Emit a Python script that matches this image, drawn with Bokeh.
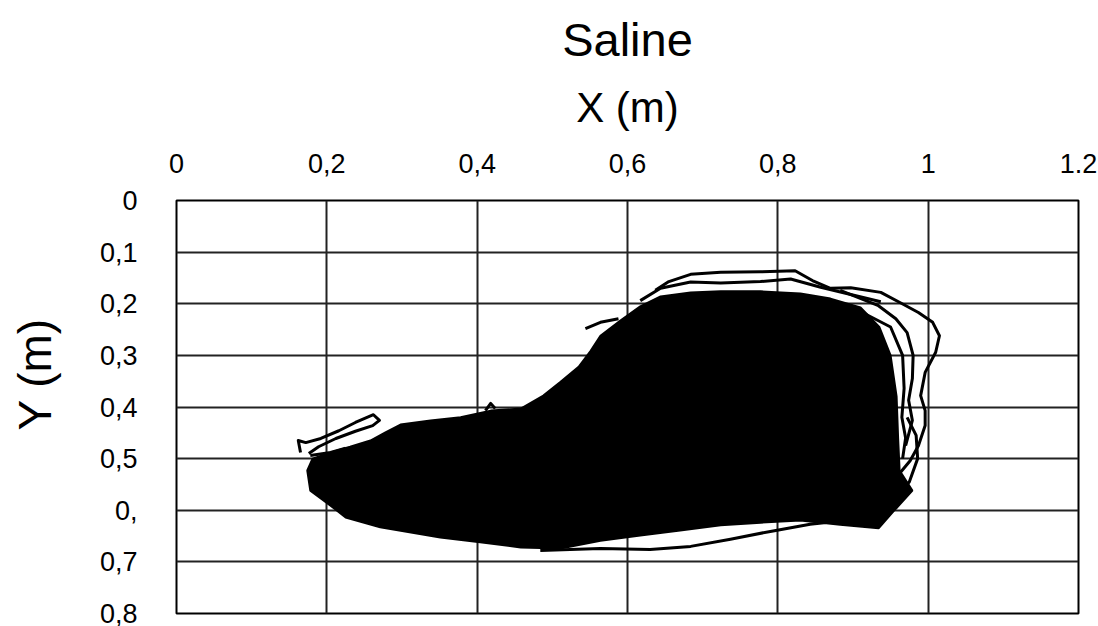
from bokeh.plotting import figure
from bokeh.models import Range1d, FixedTicker, Title, LinearAxis
from bokeh.embed import file_html
from bokeh.resources import INLINE

# ---- axes / ticks ----
x_ticks = [0, 0.2, 0.4, 0.6, 0.8, 1.0, 1.2]
x_tick_labels = ["0", "0,2", "0,4", "0,6", "0,8", "1", "1.2"]
y_ticks = [0, 0.1, 0.2, 0.3, 0.4, 0.5, 0.6, 0.7, 0.8]
y_tick_labels = ["0", "0,1", "0,2", "0,3", "0,4", "0,5", "0,", "0,7", "0,8"]

# ---- trajectory (metres) ----
# dense core of the track (outline of the saturated region)
core_x = [0.174, 0.181, 0.205, 0.231, 0.258, 0.278, 0.298, 0.338, 0.378, 0.418,
          0.458, 0.488, 0.511, 0.535, 0.551, 0.564, 0.591, 0.617, 0.644, 0.684,
          0.724, 0.777, 0.830, 0.870, 0.910, 0.935, 0.950, 0.958, 0.960, 0.962,
          0.979, 0.957, 0.934, 0.883, 0.830, 0.777, 0.724, 0.670, 0.617, 0.564,
          0.511, 0.458, 0.404, 0.351, 0.271, 0.225, 0.205, 0.178]
core_y = [0.523, 0.500, 0.488, 0.477, 0.465, 0.449, 0.434, 0.426, 0.420, 0.407,
          0.403, 0.378, 0.351, 0.322, 0.291, 0.262, 0.232, 0.205, 0.186, 0.178,
          0.176, 0.176, 0.180, 0.190, 0.207, 0.245, 0.300, 0.380, 0.460, 0.523,
          0.562, 0.597, 0.635, 0.628, 0.620, 0.624, 0.629, 0.639, 0.649, 0.659,
          0.674, 0.672, 0.662, 0.653, 0.633, 0.614, 0.591, 0.562]

# outermost loop (top and right edge)
loop_a_x = [0.637, 0.655, 0.684, 0.724, 0.777, 0.823, 0.846, 0.870, 0.897, 0.937,
            0.963, 0.987, 1.006, 1.015, 1.010, 0.996, 0.990, 0.996, 0.996, 0.987,
            0.976, 0.963]
loop_a_y = [0.174, 0.157, 0.143, 0.139, 0.138, 0.136, 0.155, 0.170, 0.169, 0.178,
            0.198, 0.217, 0.236, 0.262, 0.294, 0.333, 0.378, 0.407, 0.436, 0.475,
            0.504, 0.527]
# second loop on the right
loop_b_x = [0.883, 0.933, 0.957, 0.972, 0.980, 0.979, 0.974, 0.979, 0.970]
loop_b_y = [0.174, 0.203, 0.229, 0.256, 0.300, 0.345, 0.387, 0.426, 0.475]
# third loop on the right
loop_c_x = [0.910, 0.950, 0.966, 0.968, 0.965, 0.970, 0.966]
loop_c_y = [0.215, 0.245, 0.300, 0.364, 0.420, 0.460, 0.500]
# inner loop along the top
loop_d_x = [0.617, 0.644, 0.684, 0.724, 0.777, 0.817, 0.857, 0.897, 0.937]
loop_d_y = [0.194, 0.170, 0.158, 0.160, 0.157, 0.152, 0.168, 0.182, 0.196]
# bottom pass below the core
loop_e_x = [0.484, 0.564, 0.630, 0.684, 0.737, 0.790, 0.843, 0.883]
loop_e_y = [0.678, 0.674, 0.676, 0.670, 0.656, 0.641, 0.627, 0.621]
# extra pass along the lower right
loop_f_x = [0.930, 0.955, 0.975, 0.986, 0.984, 0.972]
loop_f_y = [0.600, 0.575, 0.545, 0.500, 0.455, 0.420]
# wisps on the upper left
wisp_a_x = [0.165, 0.162, 0.172, 0.192, 0.216, 0.238, 0.262, 0.270, 0.261, 0.238,
            0.212, 0.189, 0.176]
wisp_a_y = [0.488, 0.465, 0.469, 0.461, 0.446, 0.430, 0.415, 0.426, 0.436, 0.447,
            0.461, 0.477, 0.490]
wisp_b_x = [0.178, 0.205, 0.225]
wisp_b_y = [0.494, 0.488, 0.480]
wisp_c_x = [0.544, 0.564, 0.588]
wisp_c_y = [0.248, 0.236, 0.229]
wisp_d_x = [0.411, 0.418, 0.424]
wisp_d_y = [0.407, 0.393, 0.403]

FONT = "Liberation Sans"

p = figure(width=1098, height=626,
           x_range=Range1d(0, 1.2), y_range=Range1d(0.8, 0),
           x_axis_location="above",
           output_backend="svg", toolbar_location=None,
           min_border_left=176, min_border_right=20,
           min_border_top=200, min_border_bottom=13)

p.background_fill_color = "white"
p.border_fill_color = "white"
p.outline_line_color = "black"
p.outline_line_width = 2

# title
p.title.text = "Saline"
p.title.align = "center"
p.title.vertical_align = "top"
p.title.text_font = FONT
p.title.text_font_size = "47px"
p.title.text_font_style = "normal"
p.title.text_color = "black"
p.title.standoff = 25

# axes
for ax in (p.xaxis[0], p.yaxis[0]):
    ax.axis_line_color = None
    ax.major_tick_line_color = None
    ax.minor_tick_line_color = None
    ax.major_label_text_font = FONT
    ax.major_label_text_font_size = "27px"
    ax.major_label_text_color = "black"

p.xaxis.ticker = FixedTicker(ticks=x_ticks)
p.xaxis.major_label_overrides = dict(zip(x_ticks, x_tick_labels))
p.xaxis.major_label_standoff = 22
p.xaxis.axis_label = "X (m)"
p.xaxis.axis_label_text_font = FONT
p.xaxis.axis_label_text_font_size = "42px"
p.xaxis.axis_label_text_font_style = "normal"
p.xaxis.axis_label_text_color = "black"
p.xaxis.axis_label_standoff = 20

p.yaxis.ticker = FixedTicker(ticks=y_ticks)
p.yaxis.major_label_overrides = dict(zip(y_ticks, y_tick_labels))
p.yaxis.major_label_standoff = 33

# blank spacer between the tick labels and the y title
spacer_tick = [0.4]
spacer = LinearAxis(ticker=FixedTicker(ticks=spacer_tick), axis_line_color=None,
                    major_tick_line_color=None, minor_tick_line_color=None,
                    major_tick_in=0, major_tick_out=30, minor_tick_in=0,
                    minor_tick_out=0, major_label_standoff=0,
                    major_label_overrides={spacer_tick[0]: ""})
p.add_layout(spacer, "left")

# y axis title in the left margin
ytitle = Title(text="Y (m)", align="left", vertical_align="top", offset=183,
               standoff=8, text_font=FONT, text_font_size="46px",
               text_font_style="normal", text_color="black")
p.add_layout(ytitle, "left")

# grid
p.xgrid.ticker = FixedTicker(ticks=x_ticks)
p.ygrid.ticker = FixedTicker(ticks=y_ticks)
for g in (p.xgrid[0], p.ygrid[0]):
    g.grid_line_color = "#222222"
    g.grid_line_width = 2
    g.grid_line_alpha = 1.0

# trajectory
p.patch(core_x, core_y, fill_color="black", line_color="black", line_width=2)
for xs, ys in [(loop_a_x, loop_a_y), (loop_b_x, loop_b_y), (loop_c_x, loop_c_y),
               (loop_d_x, loop_d_y), (loop_e_x, loop_e_y), (loop_f_x, loop_f_y),
               (wisp_a_x, wisp_a_y), (wisp_b_x, wisp_b_y), (wisp_c_x, wisp_c_y),
               (wisp_d_x, wisp_d_y)]:
    p.line(xs, ys, line_color="black", line_width=3, line_join="round")

open("out.html", "w").write(file_html(p, INLINE))
